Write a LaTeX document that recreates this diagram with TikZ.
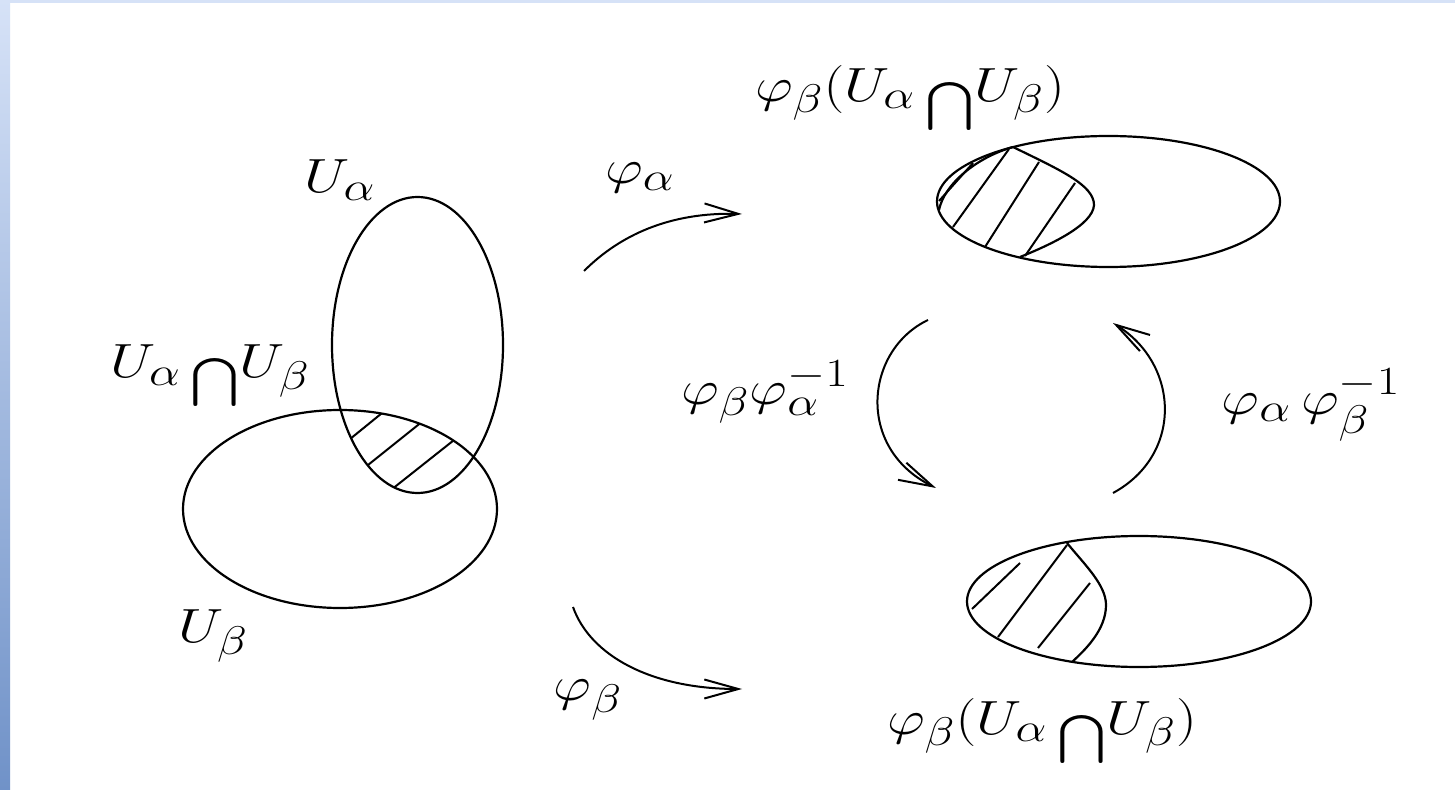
\documentclass[tikz,border=0pt]{standalone}
\usepackage{amsmath}
\usepackage{graphicx}
\usetikzlibrary{arrows.meta}
\definecolor{stripTop}{RGB}{214,226,247}
\definecolor{stripMid}{RGB}{170,192,232}
\definecolor{stripBot}{RGB}{112,146,200}
\newcommand{\lbl}[1]{\scalebox{1.18}[0.965]{$#1$}}
\newcommand{\bcap}{\,\raisebox{-0.35em}{$\bigcap$}}
\begin{document}
\begin{tikzpicture}[x=0.5pt,y=-0.5pt,
  lw/.style={line width=1.1pt},
  hatch/.style={line width=1.0pt},
  arr/.style={line width=1.0pt,-{Straight Barb[length=17pt,width=9.5pt]}},
  lab/.style={inner sep=0pt,font=\Huge}]
\useasboundingbox (0,0) rectangle (1455,790);
\fill[white] (0,0) rectangle (1455,790);
\fill[stripTop] (0,0) rectangle (1455,3);
\shade[top color=stripTop,middle color=stripMid,bottom color=stripBot] (0,0) rectangle (10,790);

% left ellipses
\draw[lw] (417.5,345) ellipse [x radius=42.75pt, y radius=74pt];
\draw[lw] (340,509) ellipse [x radius=78.5pt, y radius=49.5pt];
\begin{scope}
  \clip (417.5,345) ellipse [x radius=42.75pt, y radius=74pt];
  \clip (340,509) ellipse [x radius=78.5pt, y radius=49.5pt];
  \draw[hatch] (323,461) -- (403,396);
  \draw[hatch] (343,485) -- (443,405);
  \draw[hatch] (372,505) -- (473,425);
\end{scope}

% top right
\draw[lw] (1108.5,201.5) ellipse [x radius=85.75pt, y radius=32.75pt];
\draw[lw] (1013,147) .. controls (1060,170) and (1094,185) .. (1094,205)
  .. controls (1093,225) and (1050,245) .. (1020,257);
\draw[lw] (939,210) .. controls (944,185) and (975,158) .. (1013,147);
\draw[hatch] (939,201) -- (973,163);
\draw[hatch] (953,227) -- (1009,149);
\draw[hatch] (985,247) -- (1039,162);
\draw[hatch] (1025,256) -- (1075,183);

% bottom right
\draw[lw] (1139,601.5) ellipse [x radius=86pt, y radius=32.75pt];
\draw[lw] (1067,543) .. controls (1085,565) and (1106,585) .. (1106,605)
  .. controls (1106,630) and (1085,650) .. (1072,662);
\draw[hatch] (972,609) -- (1020,563);
\draw[hatch] (998,637) -- (1067,545);
\draw[hatch] (1038,648) -- (1090,583);

% arrows
\coordinate (a1s) at (584,271); \coordinate (a1e) at (742,214);
\coordinate (a2s) at (573,607); \coordinate (a2e) at (742,689);
\coordinate (a3s) at (928,320); \coordinate (a3e) at (936,488);
\coordinate (a4s) at (1113,493); \coordinate (a4e) at (1113,323);
\draw[arr] (a1s) .. controls (620,235) and (670,212) .. (a1e);
\draw[arr] (a2s) .. controls (590,655) and (650,689) .. (a2e);
\draw[arr] (a3s) .. controls (865,350) and (855,448) .. (a3e);
\draw[arr] (a4s) .. controls (1183,455) and (1180,365) .. (a4e);

% labels
\node[lab] (ua) at (340,180) {\lbl{U_\alpha}};
\node[lab] (uab) at (210,376) {\lbl{U_\alpha\bcap U_\beta}};
\node[lab] (ub) at (213,636) {\lbl{U_\beta}};
\node[lab] (pa) at (640,178) {\lbl{\varphi_\alpha}};
\node[lab] (pb) at (588,700) {\lbl{\varphi_\beta}};
\node[lab] (pba) at (765,392) {\lbl{\varphi_\beta\varphi_\alpha^{-1}}};
\node[lab] (pab) at (1311,405) {\lbl{\varphi_\alpha\,\varphi_\beta^{-1}}};
\node[lab] (top) at (910,98) {\lbl{\varphi_\beta(U_\alpha\bcap U_\beta)}};
\node[lab] (bot) at (1042,731) {\lbl{\varphi_\beta(U_\alpha\bcap U_\beta)}};
\end{tikzpicture}
\end{document}
